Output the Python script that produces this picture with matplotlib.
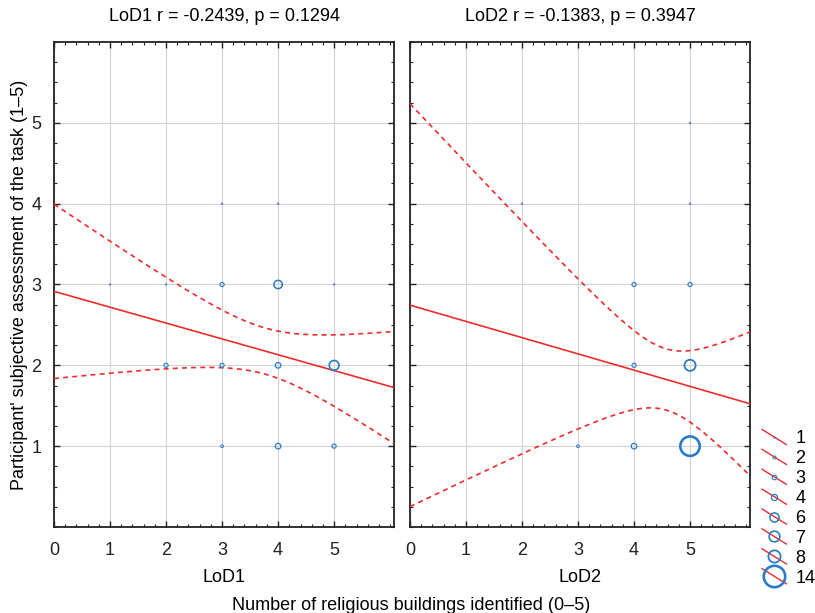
import numpy as np
import matplotlib
matplotlib.use('Agg')
import matplotlib.pyplot as plt
from matplotlib.lines import Line2D
from matplotlib.legend_handler import HandlerBase
from matplotlib.ticker import MultipleLocator

plt.rcParams['font.family'] = ['Liberation Sans', 'DejaVu Sans']

# LoD1: buildings identified (x), self assessment (y), number of participants at that point
lod1_x = [3, 4, 1, 2, 3, 4, 5, 2, 3, 4, 5, 3, 4, 5]
lod1_y = [4, 4, 3, 3, 3, 3, 3, 2, 2, 2, 2, 1, 1, 1]
lod1_n = [1, 1, 1, 1, 3, 6, 1, 3, 3, 4, 7, 2, 4, 3]

# LoD2
lod2_x = [2, 5, 5, 4, 5, 4, 5, 3, 4, 5]
lod2_y = [4, 5, 4, 3, 3, 2, 2, 1, 1, 1]
lod2_n = [1, 1, 1, 3, 3, 3, 8, 2, 4, 14]

titles = ['LoD1 r = -0.2439, p = 0.1294', 'LoD2 r = -0.1383, p = 0.3947']
panel_labels = ['LoD1', 'LoD2']
legend_counts = [1, 2, 3, 4, 6, 7, 8, 14]
# the bands use df = (distinct points - 2); t(0.975, df)
t_table = {8: 2.306, 12: 2.179}

RED = '#ef2b2b'
BLUE = '#2a7cc6'


def marker_size(n):
    return np.asarray(n, dtype=float) * 1.0


def marker_edge(n):
    return 0.5 + 0.1 * np.asarray(n, dtype=float)


# legend entry: red diagonal line with a circle of the given size
class SizeCircleHandler(HandlerBase):
    def create_artists(self, legend, orig_handle, xdescent, ydescent,
                       width, height, fontsize, trans):
        diag = Line2D([-xdescent, width - xdescent],
                      [height * 1.1 - ydescent, -height * 0.1 - ydescent],
                      color=RED, lw=1.0, transform=trans)
        circ = Line2D([width / 2 - xdescent], [height / 2 - ydescent], ls='none',
                      marker='o', ms=orig_handle.get_markersize(), mfc='none',
                      mec=BLUE, mew=orig_handle.get_markeredgewidth(),
                      transform=trans)
        return [diag, circ]


def draw_panel(ax, xs, ys, ns, title, label, show_y):
    xs = np.array(xs, dtype=float)
    ys = np.array(ys, dtype=float)
    ns = np.array(ns)

    # fit on the expanded (one row per participant) data
    xe = np.repeat(xs, ns)
    ye = np.repeat(ys, ns)
    n = len(xe)
    slope, intercept = np.polyfit(xe, ye, 1)
    resid = ye - (intercept + slope * xe)
    s = np.sqrt(np.sum(resid ** 2) / (n - 2))
    sxx = np.sum((xe - xe.mean()) ** 2)
    t_crit = t_table[len(xs) - 2]

    xg = np.linspace(0, 6.07, 200)
    yg = intercept + slope * xg
    half = t_crit * s * np.sqrt(1 / n + (xg - xe.mean()) ** 2 / sxx)

    ax.plot(xg, yg, color=RED, lw=1.2, zorder=3)
    ax.plot(xg, yg + half, color=RED, lw=1.2, ls=(0, (3, 2.5)), zorder=3)
    ax.plot(xg, yg - half, color=RED, lw=1.2, ls=(0, (3, 2.5)), zorder=3)

    ax.scatter(xs, ys, s=marker_size(ns) ** 2, facecolors='none',
               edgecolors=BLUE, linewidths=marker_edge(ns), zorder=4)

    ax.set_xlim(0, 6.07)
    ax.set_ylim(0, 6)
    ax.xaxis.set_major_locator(MultipleLocator(1))
    ax.xaxis.set_minor_locator(MultipleLocator(0.2))
    ax.yaxis.set_major_locator(MultipleLocator(1))
    ax.yaxis.set_minor_locator(MultipleLocator(0.25))
    ax.set_xticks([0, 1, 2, 3, 4, 5])
    ax.set_yticks([1, 2, 3, 4, 5])
    ax.grid(True, which='major', color='#d2d2d2', lw=0.8, zorder=0)
    ax.tick_params(which='both', direction='in', top=True, right=True,
                   labelsize=13, colors='#222222')
    ax.tick_params(which='major', length=4, width=1)
    ax.tick_params(which='minor', length=2, width=0.8)
    ax.tick_params(axis='x', pad=11)
    ax.tick_params(axis='y', pad=9, labelleft=show_y)
    for sp in ax.spines.values():
        sp.set_linewidth(1.3)
        sp.set_color('#222222')
    ax.set_title(title, fontsize=13, pad=15)
    ax.set_xlabel(label, fontsize=13, labelpad=7)


fig = plt.figure(figsize=(8.15, 6.13), dpi=100)
ax1 = fig.add_axes([0.0663, 0.1403, 0.4172, 0.7912])
ax2 = fig.add_axes([0.503, 0.1403, 0.4172, 0.7912])

draw_panel(ax1, lod1_x, lod1_y, lod1_n, titles[0], panel_labels[0], True)
draw_panel(ax2, lod2_x, lod2_y, lod2_n, titles[1], panel_labels[1], False)

fig.text(0.024, 0.536, "Participant' subjective assessment of the task (1\u20135)",
         rotation=90, ha='center', va='center', fontsize=13)
fig.text(0.505, 0.012, 'Number of religious buildings identified (0\u20135)',
         ha='center', va='center', fontsize=13)

handles = [Line2D([], [], ms=float(marker_size(c)) * 1.1, mew=float(marker_edge(c)))
           for c in legend_counts]
fig.legend(handles, [str(c) for c in legend_counts],
           handler_map={Line2D: SizeCircleHandler()},
           loc='upper left', bbox_to_anchor=(0.935, 0.298), frameon=False,
           fontsize=13, handlelength=1.35, handletextpad=0.5, labelspacing=0.16,
           borderaxespad=0, borderpad=0)

fig.savefig('out.png', dpi=100)
